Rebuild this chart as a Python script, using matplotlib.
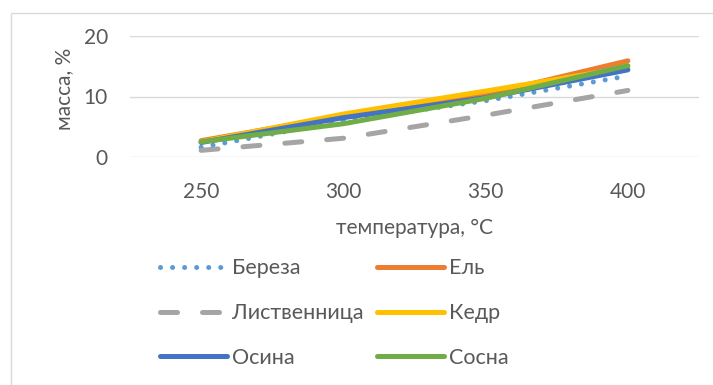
import numpy as np
import matplotlib
matplotlib.use('Agg')
import matplotlib.pyplot as plt
from matplotlib.patches import Rectangle

## Data: mass yield vs temperature for each wood type
temperatures = ['250', '300', '350', '400']
bereza = [1.6, 6.0, 9.3, 13.4]
el = [2.7, 6.8, 10.3, 15.9]
listvennitsa = [1.1, 3.1, 6.9, 11.0]
kedr = [2.5, 7.1, 10.9, 14.8]
osina = [2.4, 6.5, 9.8, 14.4]
sosna = [2.5, 5.5, 9.7, 15.1]

series_names = ['Береза', 'Ель', 'Лиственница', 'Кедр', 'Осина', 'Сосна']

W, H = 713, 385
DPI = 100
text_color = '#595959'
grid_color = '#D9D9D9'
font = 'Lato'

plt.rcParams['font.family'] = [font, 'DejaVu Sans']

fig = plt.figure(figsize=(W / DPI, H / DPI), dpi=DPI)

# chart area border (runs past the right and bottom edges)
fig.patches.append(Rectangle((11 / W, -0.1), 1.2, 1 - 13 / H + 0.1,
                             transform=fig.transFigure, fill=False,
                             edgecolor=grid_color, lw=1.0))

ax = fig.add_axes([130 / W, 1 - 157 / H, (699 - 130) / W, (157 - 36) / H])

x = np.arange(len(temperatures))
lw = 3.6
styles = [
    dict(color='#5B9BD5', linestyle=(0, (0.01, 2.4)), dash_capstyle='round'),
    dict(color='#ED7D31', linestyle='-', solid_capstyle='round'),
    dict(color='#A5A5A5', linestyle=(0, (3.4, 5.0)), dash_capstyle='round'),
    dict(color='#FFC000', linestyle='-', solid_capstyle='round'),
    dict(color='#4472C4', linestyle='-', solid_capstyle='round'),
    dict(color='#70AD47', linestyle='-', solid_capstyle='round'),
]
values = [bereza, el, listvennitsa, kedr, osina, sosna]

handles = []
for name, vals, st in zip(series_names, values, styles):
    line, = ax.plot(x, vals, lw=lw, label=name, solid_joinstyle='round', **st)
    handles.append(line)

ax.set_xlim(-0.5, len(temperatures) - 0.5)
ax.set_ylim(0, 20)
ax.set_yticks([0, 10, 20])
ax.set_xticks(x)
ax.set_xticklabels(temperatures)
ax.yaxis.grid(True, color=grid_color, lw=1.0)
ax.set_axisbelow(True)
for s in ax.spines.values():
    s.set_visible(False)
ax.tick_params(axis='both', length=0, labelsize=15, labelcolor=text_color)
ax.tick_params(axis='x', pad=18)
ax.tick_params(axis='y', pad=16)

ax.set_xlabel('температура, °С', fontsize=15, color=text_color)
ax.xaxis.set_label_coords(0.5, -0.5)
ax.set_ylabel('масса, %', fontsize=15, color=text_color)
ax.yaxis.set_label_coords(-56 / 569, 0.56)

# legend is filled row by row: two entries per row
order = [0, 2, 4, 1, 3, 5]
leg = fig.legend(handles=[handles[i] for i in order],
                 labels=[series_names[i] for i in order], ncol=2,
                 loc='upper left', bbox_to_anchor=(141 / W, 1 - 239 / H),
                 frameon=False, fontsize=15.5, handlelength=3.1,
                 handletextpad=0.25, columnspacing=0.6, labelspacing=1.15)
for t in leg.get_texts():
    t.set_color(text_color)

fig.savefig('out.png', dpi=DPI)
